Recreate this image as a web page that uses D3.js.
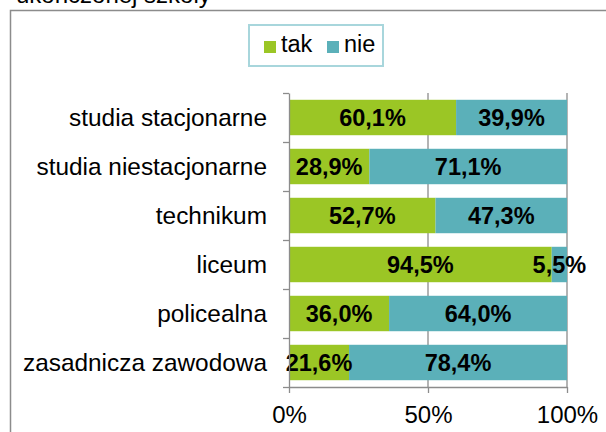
<!DOCTYPE html>
<html>
<head>
<meta charset="utf-8">
<script src="https://cdn.jsdelivr.net/npm/d3@7"></script>
<style>
  body { margin: 0; background: #fff; }
  svg { display: block; font-family: "Liberation Sans", Arial, sans-serif; }
</style>
</head>
<body>
<div id="chart"></div>
<script>
// data
const categories = ["studia stacjonarne", "studia niestacjonarne", "technikum", "liceum", "policealna", "zasadnicza zawodowa"]
const tak = [60.1, 28.9, 52.7, 94.5, 36.0, 21.6]
const nie = [39.9, 71.1, 47.3, 5.5, 64.0, 78.4]
const seriesNames = ["tak", "nie"]
const xTicks = [0, 50, 100]
const titleText = "ukończonej szkoły"

const colors = { tak: "#9bc625", nie: "#5bb0b9" }

const width = 606, height = 432
const margin = { top: 93, right: 39, bottom: 45, left: 289 }

const svg = d3.select("#chart")
  .append("svg")
    .attr("width", width)
    .attr("height", height)

// chart frame (runs off the right and bottom edges)
svg.append("rect")
  .attr("x", 10.5).attr("y", 10.5)
  .attr("width", 700).attr("height", 500)
  .attr("fill", "none")
  .attr("stroke", "#8c8c8c")
  .attr("stroke-width", 1.5)

// title, cut off by the top edge like in the source image
svg.append("text")
  .attr("x", 16).attr("y", 2.5)
  .style("font-size", "24px")
  .attr("fill", "#000")
  .text(titleText)

const pl = d3.formatLocale({ decimal: ",", thousands: " ", grouping: [3], currency: ["", " zł"] })
const fmt = d => pl.format(".1f")(d) + "%"

const data = categories.map((c, i) => ({ cat: c, tak: tak[i], nie: nie[i] }))
const stacked = d3.stack().keys(seriesNames)(data)

const x = d3.scaleLinear()
  .domain([0, 100])
  .range([margin.left, width - margin.right])

const y = d3.scaleBand()
  .domain(categories)
  .range([margin.top, height - margin.bottom])
  .paddingInner(0.277)
  .paddingOuter(0.1385)

// boundaries between categories, for the left axis ticks
const yIdx = d3.scaleLinear()
  .domain([0, categories.length])
  .range([margin.top, height - margin.bottom])

// vertical gridlines
svg.append("g")
  .selectAll("line")
  .data(xTicks.filter(d => d > 0))
  .enter()
  .append("line")
    .attr("x1", d => x(d)).attr("x2", d => x(d))
    .attr("y1", margin.top).attr("y2", height - margin.bottom)
    .attr("stroke", "#8c8c8c")
    .attr("stroke-width", 1.3)

// bars
svg.append("g")
  .selectAll("g")
  .data(stacked)
  .enter()
  .append("g")
    .attr("fill", d => colors[d.key])
  .selectAll("rect")
  .data(d => d)
  .enter()
  .append("rect")
    .attr("x", d => x(d[0]))
    .attr("width", d => x(d[1]) - x(d[0]))
    .attr("y", d => y(d.data.cat))
    .attr("height", y.bandwidth())

// bar labels
svg.append("g")
  .selectAll("g")
  .data(stacked)
  .enter()
  .append("g")
  .selectAll("text")
  .data(d => d)
  .enter()
  .append("text")
    .attr("x", d => (x(d[0]) + x(d[1])) / 2)
    .attr("y", d => y(d.data.cat) + y.bandwidth() / 2)
    .attr("dy", "0.36em")
    .attr("text-anchor", "middle")
    .style("font-size", "23.5px")
    .style("font-weight", "bold")
    .attr("fill", "#000")
    .text(d => fmt(d[1] - d[0]))

// left axis: line + ticks on category boundaries
const leftAxis = svg.append("g")
  .attr("transform", "translate(" + margin.left + ",0)")
  .call(d3.axisLeft(yIdx).tickValues(d3.range(categories.length + 1)).tickFormat("").tickSizeInner(6).tickSizeOuter(0))
leftAxis.selectAll("line, path").attr("stroke", "#8c8c8c").attr("stroke-width", 1.3)

// category labels
svg.append("g")
  .selectAll("text")
  .data(categories)
  .enter()
  .append("text")
    .attr("x", 267)
    .attr("y", d => y(d) + y.bandwidth() / 2)
    .attr("dy", "0.36em")
    .attr("text-anchor", "end")
    .style("font-size", "24.4px")
    .attr("fill", "#000")
    .text(d => d)

// bottom axis
const bottomAxis = svg.append("g")
  .attr("transform", "translate(0," + (height - margin.bottom) + ")")
  .call(d3.axisBottom(x).tickValues(xTicks).tickFormat(d => d + "%").tickSizeInner(6).tickSizeOuter(0).tickPadding(13))
bottomAxis.selectAll("line, path").attr("stroke", "#8c8c8c").attr("stroke-width", 1.3)
bottomAxis.selectAll("text")
  .style("font-size", "24px")
  .style("font-family", "'Liberation Sans', Arial, sans-serif")
  .attr("fill", "#000")

// legend
const legend = svg.append("g")
legend.append("rect")
  .attr("x", 249).attr("y", 25)
  .attr("width", 134).attr("height", 41)
  .attr("fill", "#fff")
  .attr("stroke", "#a8d6dc")
  .attr("stroke-width", 2)

const legendX = d3.scalePoint().domain(seriesNames).range([264, 327])
legend.selectAll("rect.key")
  .data(seriesNames)
  .enter()
  .append("rect")
    .attr("class", "key")
    .attr("x", d => legendX(d))
    .attr("y", 41)
    .attr("width", 12).attr("height", 12)
    .attr("fill", d => colors[d])
legend.selectAll("text")
  .data(seriesNames)
  .enter()
  .append("text")
    .attr("x", d => legendX(d) + 17)
    .attr("y", 52)
    .style("font-size", "23.5px")
    .attr("fill", "#000")
    .text(d => d)
</script>
</body>
</html>
